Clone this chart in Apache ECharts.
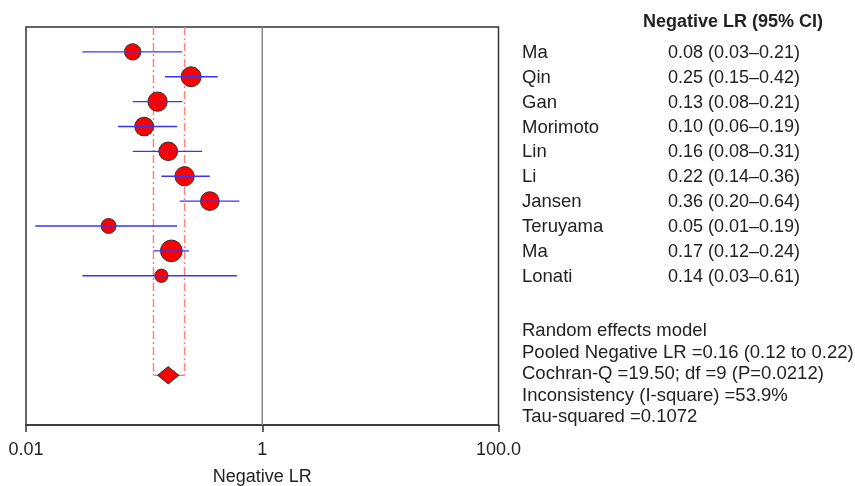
<!DOCTYPE html>
<html><head><meta charset="utf-8">
<script src="https://cdn.jsdelivr.net/npm/echarts@6/dist/echarts.min.js"></script>
<style>html,body{margin:0;padding:0;background:#fff}#c{width:855px;height:486px}</style>
</head><body><div id="c"></div>
<script>
// ---- data ----
const studies = ['Ma','Qin','Gan','Morimoto','Lin','Li','Jansen','Teruyama','Ma','Lonati'];
const lr      = [0.08,0.25,0.13,0.10,0.16,0.22,0.36,0.05,0.17,0.14];
const lower   = [0.03,0.15,0.08,0.06,0.08,0.14,0.20,0.012,0.12,0.03];
const upper   = [0.21,0.42,0.21,0.19,0.31,0.36,0.64,0.19,0.24,0.61];
const weights = [8.0,12.0,11.2,10.5,10.5,11.2,10.5,6.7,14.1,5.3];
const pooled = 0.16, pooledLow = 0.12, pooledHigh = 0.22;
const xTicks = [0.01, 1, 100];
const xTickLabels = ['0.01','1','100.0'];
const header = 'Negative LR (95% CI)';
const summaryLines = [
  'Random effects model',
  'Pooled Negative LR =0.16 (0.12 to 0.22)',
  'Cochran-Q =19.50; df =9 (P=0.0212)',
  'Inconsistency (I-square) =53.9%',
  'Tau-squared =0.1072'
];

// ---- chart ----
const FONT = '"Liberation Sans", Arial, Helvetica, sans-serif';
const TXT = '#222';
const pooledRow = 13;
const chart = echarts.init(document.getElementById('c'), null, {renderer:'canvas'});

function tickLabel(v){
  const i = xTicks.findIndex(t => Math.abs(Math.log10(t) - Math.log10(v)) < 1e-6);
  return i >= 0 ? xTickLabels[i] : '';
}

const option = {
  animation:false,
  grid:{left:26, right:356.5, top:27, bottom:61, show:true, borderColor:'#333', borderWidth:1.5,
        outerBoundsMode:'none', containLabel:false},
  xAxis:{
    type:'log', logBase:10, min:0.01, max:100,
    axisLine:{show:true, onZero:false, lineStyle:{color:'#333', width:1.5}},
    axisTick:{show:true, customValues:xTicks, length:7, lineStyle:{color:'#333', width:1.5}},
    axisLabel:{customValues:xTicks, formatter:tickLabel, fontSize:18, color:TXT, margin:16, fontFamily:FONT},
    splitLine:{show:false}, minorTick:{show:false},
    name:'Negative LR', nameLocation:'middle', nameGap:43,
    nameTextStyle:{fontSize:18, color:TXT, fontFamily:FONT}
  },
  yAxis:{type:'value', min:-1, max:15, inverse:true, show:false},
  series:[
    {type:'line', data:[[1,-1],[1,15]], symbol:'none', z:1,
     lineStyle:{color:'#888', width:1.5}},
    {type:'line', data:[[pooledLow,-1],[pooledLow,pooledRow]], symbol:'none', z:2,
     lineStyle:{color:'#ff8080', width:1.5, type:[8,3,2,3]}},
    {type:'line', data:[[pooledHigh,-1],[pooledHigh,pooledRow]], symbol:'none', z:2,
     lineStyle:{color:'#ff8080', width:1.5, type:[8,3,2,3]}},
    {type:'line', data:[[pooledLow,pooledRow],[pooledHigh,pooledRow]], symbol:'none', z:2,
     lineStyle:{color:'#ff8080', width:1.5}},
    {type:'scatter', z:3,
     data:lr.map((v,i)=>[v,i,weights[i]]),
     symbolSize:d=>5.78*Math.sqrt(d[2]),
     itemStyle:{color:'#ff0000', borderColor:'#333', borderWidth:1, opacity:1}},
    {type:'custom', z:4,
     data:lower.map((v,i)=>[v,upper[i],i]),
     encode:{x:[0,1], y:2},
     renderItem:function(params, api){
       const p1 = api.coord([api.value(0), api.value(2)]);
       const p2 = api.coord([api.value(1), api.value(2)]);
       return {type:'line', shape:{x1:p1[0], y1:p1[1], x2:p2[0], y2:p2[1]},
               style:{stroke:'#3636ff', lineWidth:1.4}};
     }},
    {type:'scatter', z:5, data:[[pooled,pooledRow]], symbol:'diamond', symbolSize:[21,17],
     itemStyle:{color:'#ff0000', borderColor:'#333', borderWidth:1, opacity:1}}
  ]
};
chart.setOption(option);

const graphics = [];
graphics.push({type:'text', left:643, top:13, style:{text:header, font:'bold 18px '+FONT, fill:TXT}});
studies.forEach((s,i)=>{
  const y = chart.convertToPixel({yAxisIndex:0}, i);
  graphics.push({type:'text', x:522, y:y+1, style:{text:s, font:'18.5px '+FONT, fill:TXT, verticalAlign:'middle'}});
  const t = lr[i].toFixed(2)+' ('+lower[i].toFixed(2)+'\u2013'+upper[i].toFixed(2)+')';
  graphics.push({type:'text', x:668, y:y+1, style:{text:t, font:'18px '+FONT, fill:TXT, verticalAlign:'middle'}});
});
summaryLines.forEach((s,k)=>{
  graphics.push({type:'text', x:522, y:331+21.5*k, style:{text:s, font:'18.5px '+FONT, fill:TXT, verticalAlign:'middle'}});
});
chart.setOption({graphic:graphics});
</script>
</body></html>
